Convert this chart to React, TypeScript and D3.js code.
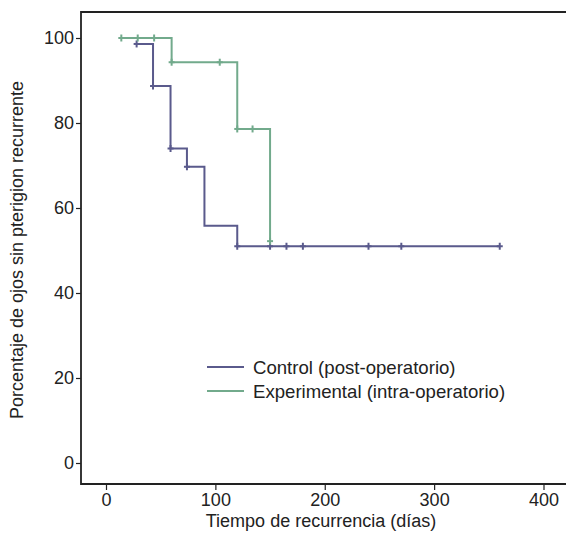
import React, { useEffect, useRef } from 'react';
import * as d3 from 'd3';

// Kaplan-Meier steps
const controlTimes = [28, 43, 59, 74, 90, 120, 360];
const controlSurv = [98.6, 88.7, 74.0, 69.7, 55.8, 51.0, 51.0];
const controlCensored = [28, 43, 59, 74, 120, 150, 165, 180, 240, 270, 360];

const expTimes = [14, 60, 120, 150];
const expSurv = [100, 94.3, 78.6, 52.2];
const expCensored = [14, 29, 44, 60, 104, 120, 134, 150];

const xTicks = [0, 100, 200, 300, 400];
const yTicks = [0, 20, 40, 60, 80, 100];

const seriesNames = ['Control (post-operatorio)', 'Experimental (intra-operatorio)'];
const seriesColors = ['#5a5a8c', '#72aa8c'];

const W = 566;
const H = 540;
const FONT = 'Liberation Sans, Arial, sans-serif';
const FS = 18;

const survAt = (times, surv, t) => {
  let v = surv[0];
  times.forEach((tt, i) => {
    if (tt <= t) v = surv[i];
  });
  return v;
};

const App = () => {
  const xAxisRef = useRef(null);
  const yAxisRef = useRef(null);

  const x = d3.scaleLinear().domain([0, 400]).range([106, 543.5]);
  const y = d3.scaleLinear().domain([0, 100]).range([463, 38]);

  const left = 81;
  const top = 12;
  const bottom = 484;

  useEffect(() => {
    const xa = d3.axisBottom(x).tickValues(xTicks).tickSize(6).tickSizeOuter(0).tickPadding(3);
    const gx = d3.select(xAxisRef.current);
    gx.call(xa);
    gx.select('.domain').remove();
    gx.selectAll('line').attr('stroke', '#222').attr('stroke-width', 1.2);
    gx.selectAll('text').attr('font-family', FONT).attr('font-size', FS).attr('fill', '#222');

    const ya = d3.axisLeft(y).tickValues(yTicks).tickSize(5).tickSizeOuter(0).tickPadding(2);
    const gy = d3.select(yAxisRef.current);
    gy.call(ya);
    gy.select('.domain').remove();
    gy.selectAll('line').attr('stroke', '#222').attr('stroke-width', 1.2);
    gy.selectAll('text').attr('font-family', FONT).attr('font-size', FS).attr('fill', '#222');
  }, []);

  const line = d3.line().x((d) => x(d[0])).y((d) => y(d[1])).curve(d3.curveStepAfter);
  const controlPts = controlTimes.map((t, i) => [t, controlSurv[i]]);
  const expPts = expTimes.map((t, i) => [t, expSurv[i]]);

  const series = [
    { pts: controlPts, cens: controlCensored.map((t) => [t, survAt(controlTimes, controlSurv, t)]) },
    { pts: expPts, cens: expCensored.map((t) => [t, survAt(expTimes, expSurv, t)]) },
  ];

  return (
    <svg width={W} height={H} style={{ position: 'absolute', left: 0, top: 0, background: '#fff' }}>
      <rect width={W} height={H} fill="#fff" />
      {/* frame: left, top, bottom */}
      <path
        d={`M${W},${top}H${left}V${bottom}H${W}`}
        fill="none"
        stroke="#222"
        strokeWidth={1.8}
      />
      <g ref={xAxisRef} transform={`translate(0,${bottom})`} />
      <g ref={yAxisRef} transform={`translate(${left},0)`} />

      {series.map((s, i) => (
        <g key={i}>
          <path d={line(s.pts)} fill="none" stroke={seriesColors[i]} strokeWidth={2} />
          {s.cens.map((c, j) => (
            <g key={j} stroke={seriesColors[i]} strokeWidth={2}>
              <line x1={x(c[0])} x2={x(c[0])} y1={y(c[1]) - 3.5} y2={y(c[1]) + 3.5} />
              <line x1={x(c[0]) - 3} x2={x(c[0]) + 3} y1={y(c[1])} y2={y(c[1])} />
            </g>
          ))}
        </g>
      ))}

      {/* legend */}
      {seriesNames.map((name, i) => (
        <g key={name} transform={`translate(207,${367 + i * 24})`}>
          <line x1={0} x2={37} y1={0} y2={0} stroke={seriesColors[i]} strokeWidth={2} />
          <text x={46} y={0} dy="0.35em" fontFamily={FONT} fontSize={18.6} fill="#222">
            {name}
          </text>
        </g>
      ))}

      <text x={321} y={527} textAnchor="middle" fontFamily={FONT} fontSize={FS} fill="#222">
        Tiempo de recurrencia (días)
      </text>
      <text
        transform={`translate(23,250) rotate(-90)`}
        textAnchor="middle"
        fontFamily={FONT}
        fontSize={FS}
        fill="#222"
      >
        Porcentaje de ojos sin pterigion recurrente
      </text>
    </svg>
  );
};

export default App;
